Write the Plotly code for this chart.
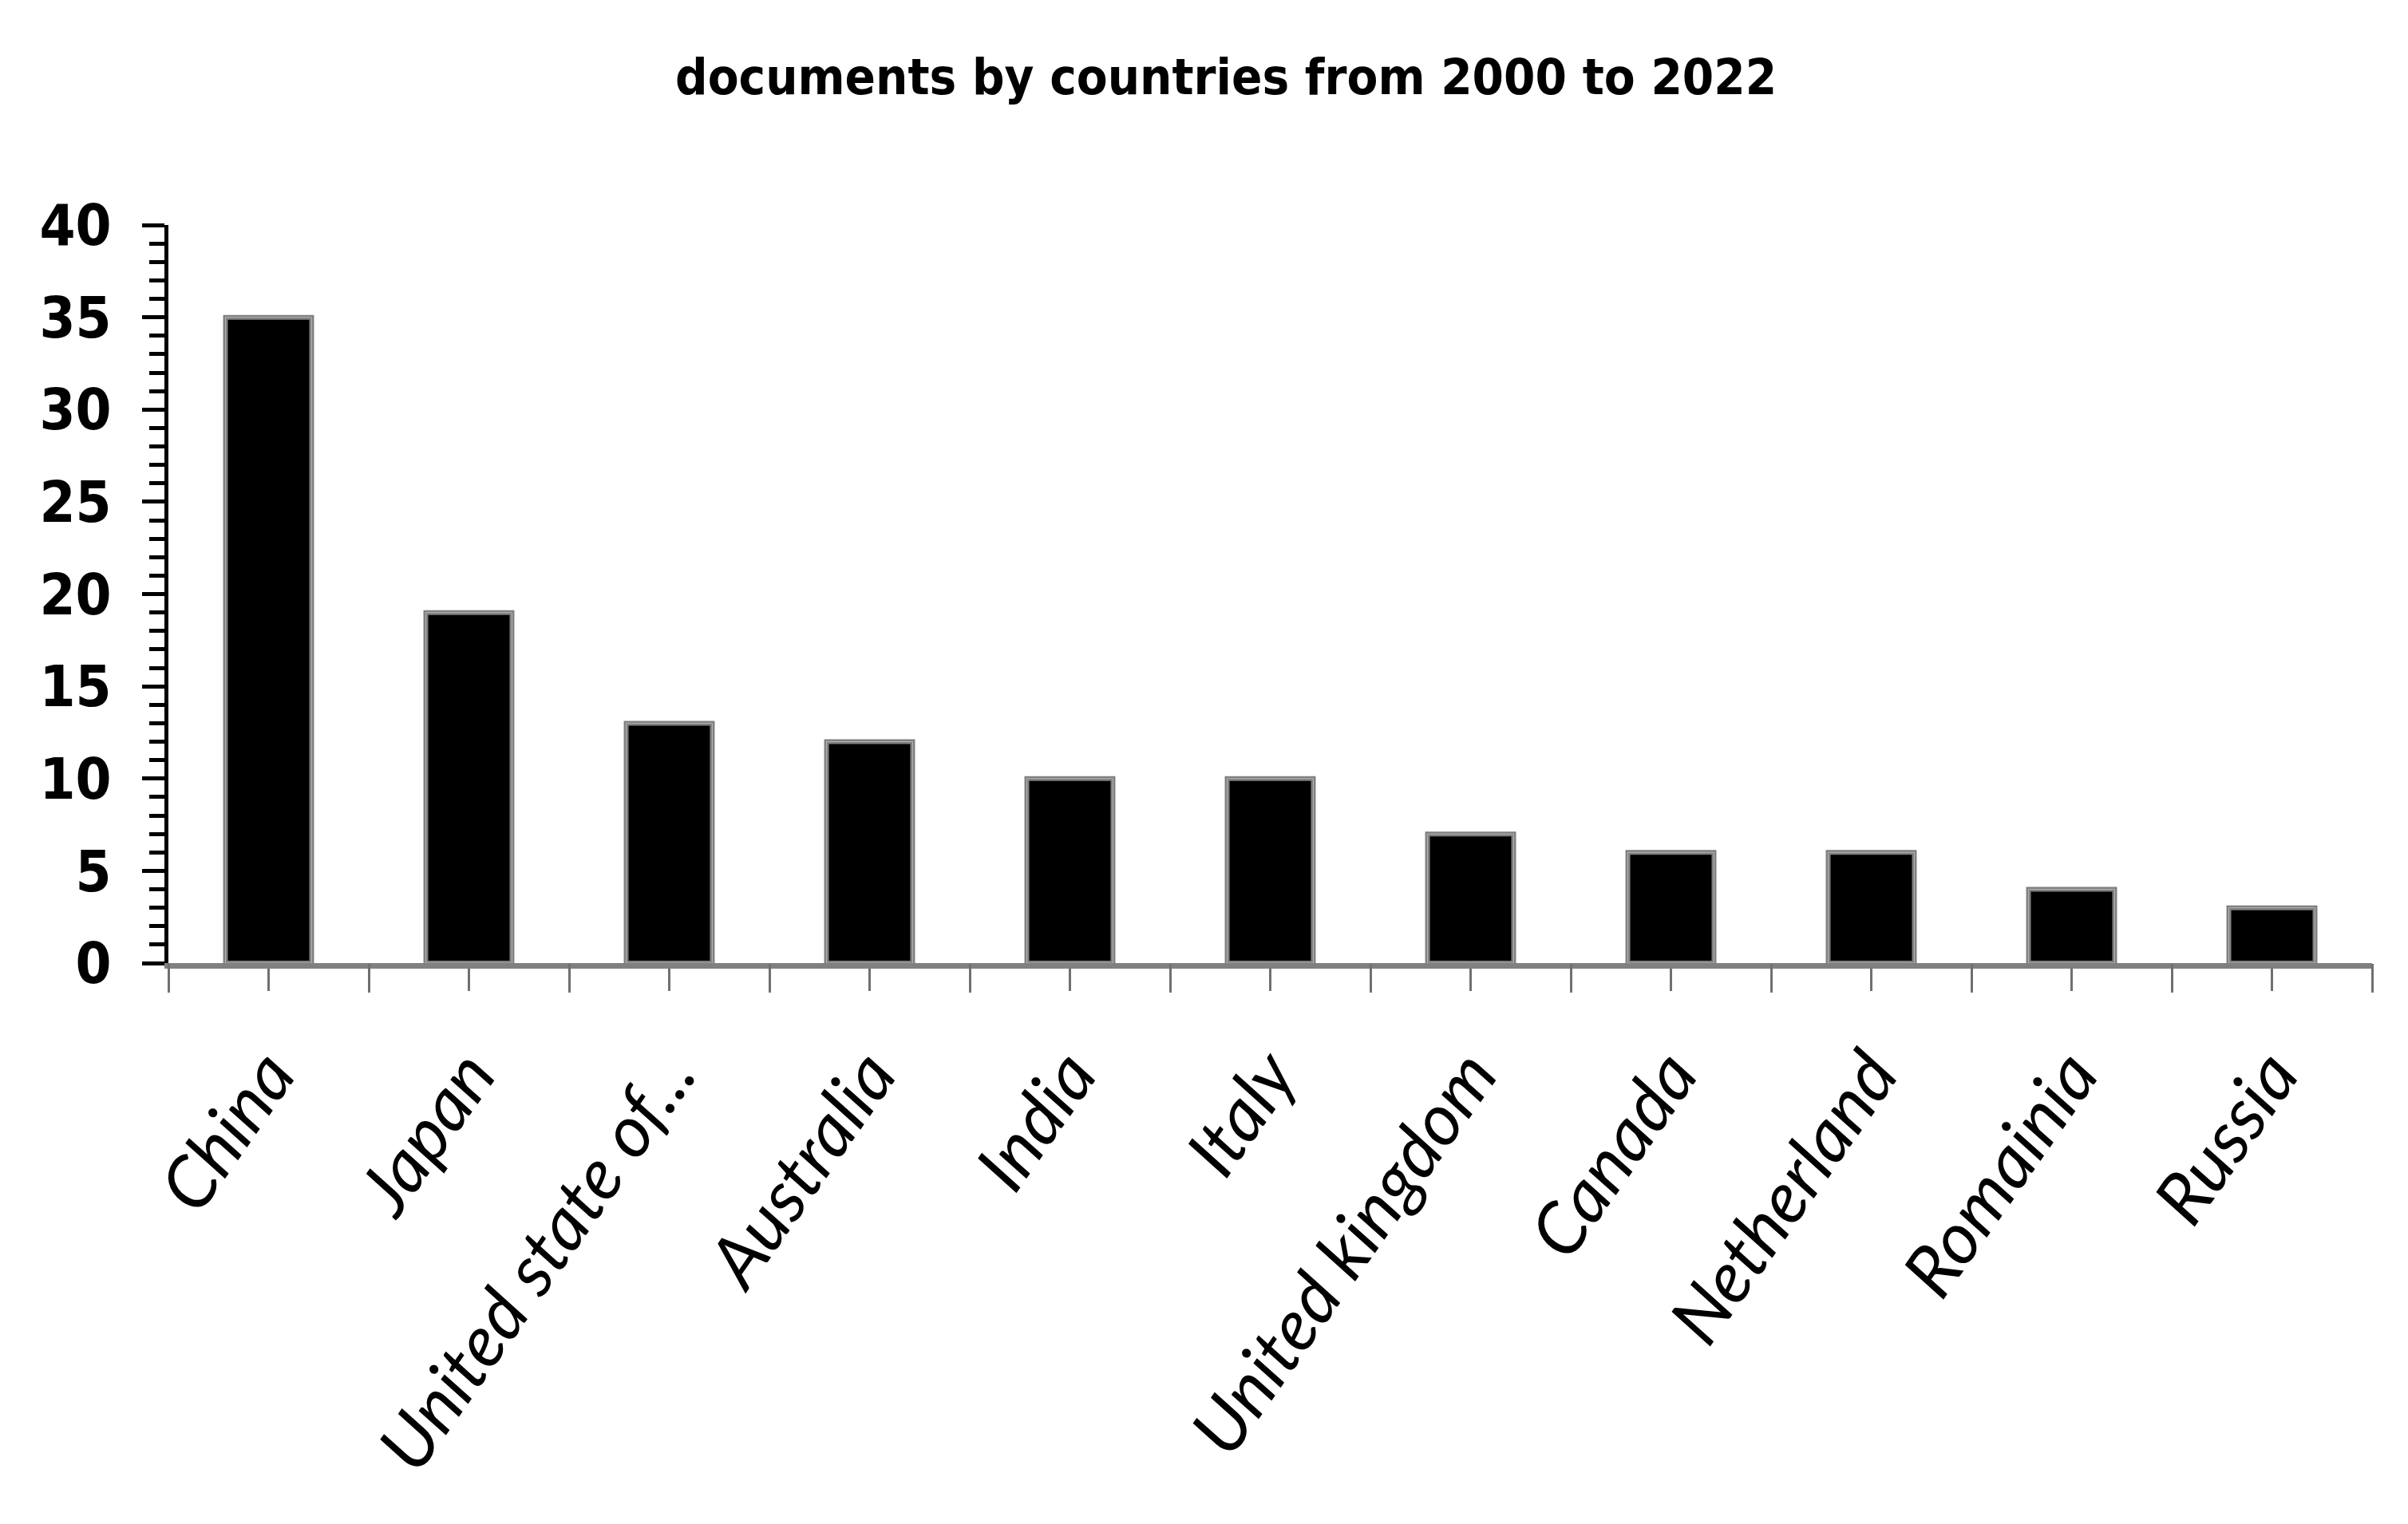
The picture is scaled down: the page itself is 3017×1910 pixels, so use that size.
import plotly.graph_objects as go

# datos
paises = ['China', 'Japan', 'United state of...', 'Australia', 'India', 'Italy',
          'United kingdom', 'Canada', 'Netherland', 'Romainia', 'Russia']
documentos = [35, 19, 13, 12, 10, 10, 7, 6, 6, 4, 3]
marcas_y = [0, 5, 10, 15, 20, 25, 30, 35, 40]

fuente_titulo = "Liberation Sans Narrow, DejaVu Sans Condensed, sans-serif"
fuente_ejes = "DejaVu Sans Condensed, Liberation Sans Narrow, sans-serif"

# etiquetas en cursiva
etiquetas = ['<i>' + p + '</i>' for p in paises]

fig = go.Figure()

# barras principales
fig.add_trace(go.Bar(x=paises, y=documentos,
                     marker=dict(color='black', line=dict(color='#808080', width=6)),
                     showlegend=False))

# traza invisible para el eje con marcas en los límites de categoría
fig.add_trace(go.Bar(x=paises, y=documentos, xaxis='x2',
                     marker=dict(color='rgba(0,0,0,0)'), hoverinfo='skip',
                     showlegend=False))

fig.update_layout(
    width=3017, height=1910,
    paper_bgcolor='white', plot_bgcolor='white',
    margin=dict(l=203, r=53, t=274, b=711),
    bargap=0.57,
    title=dict(text='<b>documents by countries from 2000 to 2022</b>',
               x=0.5065, xanchor='center', y=1 - 88 / 1910, yanchor='middle',
               font=dict(family=fuente_titulo, size=63, color='black')),
    xaxis=dict(type='category', showline=True, linecolor='#808080', linewidth=7,
               tickmode='array', tickvals=paises, ticktext=etiquetas,
               ticks='outside', ticklen=28, tickwidth=3, tickcolor='#707070',
               tickangle=-55, ticklabelstandoff=16,
               tickfont=dict(family="Lato, Open Sans, sans-serif", size=90,
                             color='black', style='italic'),
               showgrid=False, zeroline=False),
    xaxis2=dict(type='category', overlaying='x', matches='x', side='bottom',
                showline=False, ticks='outside', tickson='boundaries', ticklen=36,
                tickwidth=3, tickcolor='#707070', showticklabels=False,
                showgrid=False, zeroline=False),
    yaxis=dict(range=[0, 40], tickvals=marcas_y, showline=True, linecolor='black',
               linewidth=5, ticks='outside', ticklen=28, tickwidth=5, tickcolor='black',
               minor=dict(dtick=1, ticks='outside', ticklen=19, tickwidth=5,
                          tickcolor='black', showgrid=False),
               ticklabelstandoff=24,
               tickfont=dict(family=fuente_ejes, size=72, color='black', weight='bold'),
               showgrid=False, zeroline=False),
)

fig.write_html("out.html")
